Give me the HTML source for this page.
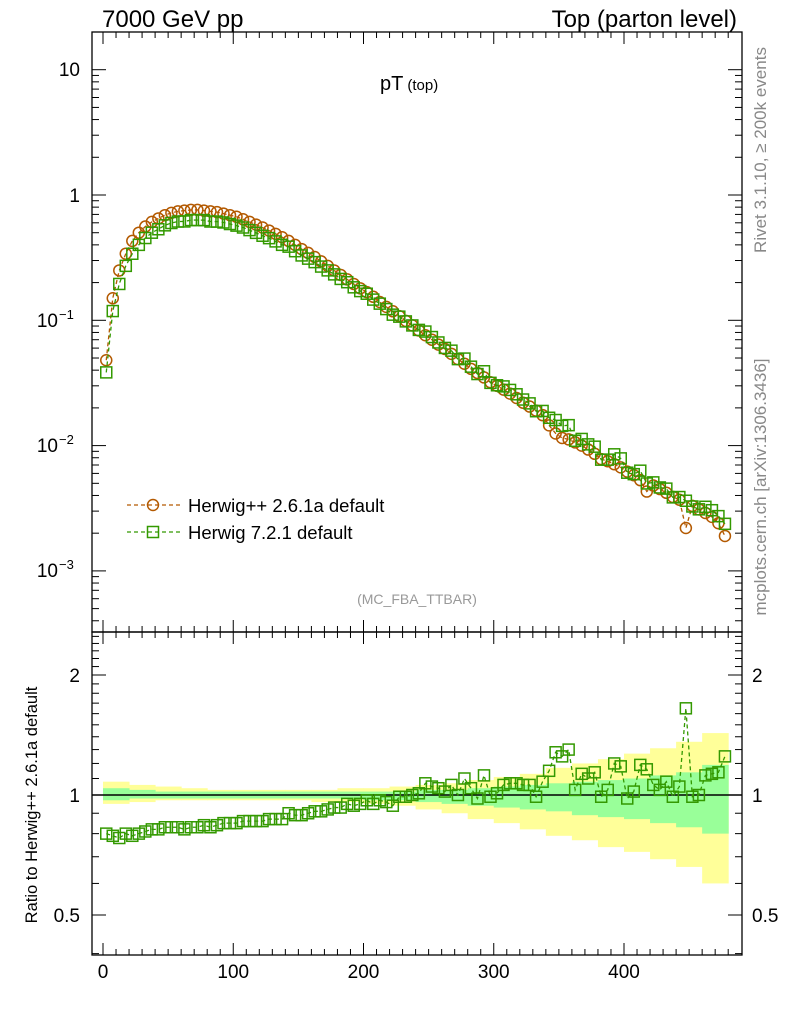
<!DOCTYPE html>
<html><head><meta charset="utf-8"><style>
body{margin:0;background:#fff;font-family:"Liberation Sans",sans-serif}
</style></head><body>
<svg id="c" width="786" height="1024" xmlns="http://www.w3.org/2000/svg" font-family="Liberation Sans, sans-serif"></svg>
<script>
const binLo = [];for(let i=0;i<96;i++)binLo.push(i*5);
const herwigpp = [0.048,0.15,0.25,0.34,0.43,0.50,0.56,0.61,0.65,0.69,
0.72,0.74,0.75,0.76,0.76,0.75,0.74,0.73,0.71,0.69,
0.67,0.64,0.61,0.58,0.55,0.52,0.49,0.46,0.43,0.40,
0.37,0.345,0.32,0.295,0.272,0.25,0.23,0.212,0.195,0.18,
0.168,0.154,0.14,0.128,0.118,0.108,0.099,0.091,0.083,0.076,
0.070,0.064,0.059,0.054,0.049,0.045,0.041,0.038,0.035,0.032,
0.030,0.028,0.026,0.024,0.022,0.0205,0.019,0.0175,0.0145,0.0125,
0.0115,0.0112,0.0106,0.0100,0.0093,0.0086,0.0078,0.0075,0.0071,0.0067,
0.0062,0.0058,0.0053,0.0043,0.0048,0.0045,0.0042,0.0039,0.0037,0.0022,
0.0033,0.0031,0.0029,0.0027,0.0024,0.0019];
const ratio = [0.80,0.79,0.78,0.80,0.79,0.80,0.81,0.82,0.82,0.83,
0.83,0.83,0.82,0.83,0.83,0.84,0.83,0.84,0.85,0.85,
0.85,0.86,0.86,0.86,0.86,0.87,0.87,0.87,0.90,0.89,
0.89,0.90,0.91,0.91,0.92,0.93,0.93,0.95,0.94,0.95,
0.97,0.95,0.97,0.96,0.94,0.99,0.99,1.00,1.01,1.07,
1.05,1.04,1.02,1.06,1.00,1.10,1.04,0.98,1.12,0.99,
1.01,1.06,1.07,1.07,1.06,1.06,0.99,1.08,1.15,1.28,
1.25,1.30,1.03,1.13,1.10,1.14,0.99,1.03,1.20,1.18,
0.98,1.02,1.19,1.16,1.06,1.03,1.08,0.99,1.05,1.65,
0.99,1.00,1.12,1.13,1.14,1.25];
const bandX = [0,20,40,60,80,100,120,140,160,180,200,220,240,260,280,300,320,340,360,380,400,420,440,460];
const yellowHi = [1.08,1.06,1.05,1.04,1.03,1.03,1.03,1.03,1.03,1.04,1.04,1.05,1.06,1.07,1.09,1.11,1.13,1.17,1.20,1.23,1.27,1.31,1.36,1.43];
const yellowLo = [0.95,0.96,0.97,0.97,0.97,0.97,0.97,0.97,0.96,0.96,0.95,0.94,0.92,0.90,0.87,0.85,0.82,0.79,0.77,0.74,0.72,0.69,0.66,0.60];
const greenHi = [1.04,1.03,1.02,1.02,1.02,1.02,1.02,1.02,1.02,1.02,1.02,1.02,1.03,1.03,1.04,1.05,1.06,1.07,1.08,1.09,1.10,1.12,1.14,1.19];
const greenLo = [0.97,0.98,0.98,0.98,0.98,0.98,0.98,0.98,0.98,0.98,0.97,0.97,0.96,0.95,0.94,0.93,0.92,0.91,0.89,0.88,0.87,0.85,0.83,0.80];
const xTicks=[0,100,200,300,400];
const NS="http://www.w3.org/2000/svg",svg=document.getElementById('c');
const L=92,R=742,T=32,MB=632,B=955;
const X=v=>103+v*1.3025;
const Y=v=>195-125.3*Math.log10(v);
const RY=v=>795-398.6*Math.log10(v);
function el(t,a,p){const e=document.createElementNS(NS,t);for(const k in a)e.setAttribute(k,a[k]);(p||svg).appendChild(e);return e;}
function txt(x,y,s,size,anchor,fill,name){const e=el('text',{x:x,y:y,'font-size':size,'text-anchor':anchor||'start',fill:fill||'#000'});e.textContent=s;

return e;}
function band(lo,hi,col,name){for(let i=0;i<bandX.length;i++){const x0=X(bandX[i]),x1=X(bandX[i]+20);const r=el('rect',{x:x0,y:RY(hi[i]),width:x1-x0+0.5,height:RY(lo[i])-RY(hi[i]),fill:col});

}}
band(yellowLo,yellowHi,'#ffff99','yellow-band');
band(greenLo,greenHi,'#99ff99','green-band');
el('line',{x1:L,x2:R,y1:RY(1),y2:RY(1),stroke:'#000','stroke-width':1.5});
for(const [y0,y1,n] of [[T,MB,'main-frame'],[MB,B,'ratio-frame']]){const f=el('rect',{x:L,y:y0,width:R-L,height:y1-y0,fill:'none',stroke:'#000','stroke-width':1.3});

}
for(let v=0;v<=480;v+=10){const big=v%100===0;const len=big?12:6;
for(const [yb,yt] of [[MB,T],[B,MB]]){el('line',{x1:X(v),x2:X(v),y1:yb,y2:yb-len,stroke:'#000'});el('line',{x1:X(v),x2:X(v),y1:yt,y2:yt+len,stroke:'#000'});}}
xTicks.forEach(v=>txt(X(v),978,String(v),19,'middle','#000','x-tick-label'));
for(let e=-4;e<=1;e++){for(let m=1;m<10;m++){const v=m*Math.pow(10,e);const y=Y(v);if(y<T||y>MB)continue;const len=m===1?14:7;
el('line',{x1:L,x2:L+len,y1:y,y2:y,stroke:'#000'});el('line',{x1:R,x2:R-len,y1:y,y2:y,stroke:'#000'});}}
txt(80,76,'10',19,'end','#000','y-tick-label');txt(80,202,'1',19,'end','#000','y-tick-label');
[[-1,327],[-2,452],[-3,577]].forEach(([e,y])=>{txt(58,y,'10',19,'end','#000','y-tick-label');const s=el('text',{x:59,y:y-8,'font-size':13});s.textContent='−'+(-e);

});
for(let v=0.4;v<=2.6;v+=0.1){const y=RY(v);if(y<MB||y>B)continue;const big=Math.abs(v-0.5)<1e-6||Math.abs(v-1)<1e-6||Math.abs(v-2)<1e-6;const len=big?14:7;
el('line',{x1:L,x2:L+len,y1:y,y2:y,stroke:'#000'});el('line',{x1:R,x2:R-len,y1:y,y2:y,stroke:'#000'});}
[[2,'2'],[1,'1'],[0.5,'0.5']].forEach(([v,s])=>{txt(80,RY(v)+7,s,19,'end','#000','ratio-tick-label');txt(752,RY(v)+7,s,19,'start','#000','ratio-tick-label-right');});
const herwig7=herwigpp.map((v,i)=>v*ratio[i]);
function series(vals,yf,col,shape,name){let pts=vals.map((v,i)=>[X(binLo[i]+2.5),yf(v)]);
const p=el('polyline',{points:pts.map(p=>p.join(',')).join(' '),fill:'none',stroke:col,'stroke-width':1.3,'stroke-dasharray':'4,3'});


pts.forEach(([x,y])=>{let m;if(shape==='c')m=el('circle',{cx:x,cy:y,r:5.5,fill:'none',stroke:col,'stroke-width':1.5});else m=el('rect',{x:x-5.5,y:y-5.5,width:11,height:11,fill:'none',stroke:col,'stroke-width':1.5});

});}
series(herwigpp,Y,'#b35900','c','herwigpp');
series(herwig7,Y,'#339900','s','herwig7');
series(ratio,RY,'#339900','s','ratio-herwig7');
el('line',{x1:127,x2:180,y1:505,y2:505,stroke:'#b35900','stroke-dasharray':'4,3','stroke-width':1.3});el('circle',{cx:153,cy:505,r:5.5,fill:'none',stroke:'#b35900','stroke-width':1.5});
txt(188,512,'Herwig++ 2.6.1a default',18.5,'start','#000','legend-entry-herwigpp');
el('line',{x1:127,x2:180,y1:532,y2:532,stroke:'#339900','stroke-dasharray':'4,3','stroke-width':1.3});el('rect',{x:147.5,y:526.5,width:11,height:11,fill:'none',stroke:'#339900','stroke-width':1.5});
txt(188,539,'Herwig 7.2.1 default',18.5,'start','#000','legend-entry-herwig7');
txt(102,27,'7000 GeV pp',24,'start','#000','header-left');
txt(737,27,'Top (parton level)',24,'end','#000','header-right');
const tt=txt(380,90,'pT',20,'start','#000','plot-title');const ts=el('tspan',{'font-size':15,dx:4});ts.textContent='(top)';tt.appendChild(ts);
txt(417,604,'(MC_FBA_TTBAR)',14,'middle','#999','analysis-label');
const r1=txt(0,0,'Rivet 3.1.10, ≥ 200k events',17,'middle','#888','side-label-rivet');r1.setAttribute('transform','translate(766,150) rotate(-90)');
const r2=txt(0,0,'mcplots.cern.ch [arXiv:1306.3436]',17,'middle','#888','side-label-mcplots');r2.setAttribute('transform','translate(766,487) rotate(-90)');
const r3=txt(0,0,'Ratio to Herwig++ 2.6.1a default',16.5,'middle','#000','ratio-y-title');r3.setAttribute('transform','translate(37,805) rotate(-90)');
</script>
</body></html>
